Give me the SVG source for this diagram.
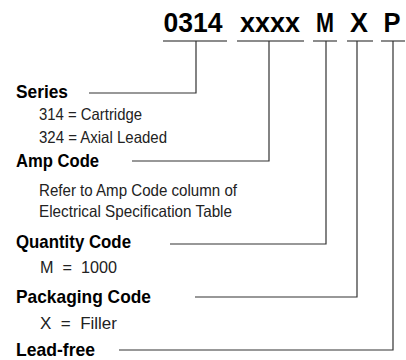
<svg xmlns="http://www.w3.org/2000/svg" width="406" height="360" viewBox="0 0 406 360">
<style>
.code{font-family:"Liberation Sans",Arial,sans-serif;font-weight:bold;font-size:27px;fill:#000;text-anchor:middle}
.head{font-family:"Liberation Sans",Arial,sans-serif;font-weight:bold;font-size:18.5px;fill:#000}
.body{font-family:"Liberation Sans",Arial,sans-serif;font-size:16.5px;fill:#222}
.ln{stroke:#333;stroke-width:1.2;fill:none}
.ul{stroke:#666;stroke-width:1.3;fill:none}
</style>
<rect width="406" height="360" fill="#fff"/>
<g id="code">
<text class="code" x="193" y="32" textLength="59" lengthAdjust="spacingAndGlyphs">0314</text>
<text class="code" x="270" y="32" textLength="60" lengthAdjust="spacingAndGlyphs">xxxx</text>
<text class="code" x="325" y="32" textLength="18" lengthAdjust="spacingAndGlyphs">M</text>
<text class="code" x="359" y="32" textLength="18" lengthAdjust="spacingAndGlyphs">X</text>
<text class="code" x="392" y="32" textLength="17" lengthAdjust="spacingAndGlyphs">P</text>
<path class="ul" d="M163 41H227M237 41H304M313 41H337M347 41H373M381 41H405"/>
</g>
<g id="series">
<text class="head" x="16" y="98" textLength="52" lengthAdjust="spacingAndGlyphs">Series</text>
<text class="body" x="39" y="120" textLength="103" lengthAdjust="spacingAndGlyphs">314 = Cartridge</text>
<text class="body" x="39" y="143" textLength="128" lengthAdjust="spacingAndGlyphs">324 = Axial Leaded</text>
</g>
<g id="amp">
<text class="head" x="16" y="167" textLength="83" lengthAdjust="spacingAndGlyphs">Amp Code</text>
<text class="body" x="39" y="196" textLength="198" lengthAdjust="spacingAndGlyphs">Refer to Amp Code column of</text>
<text class="body" x="39" y="217" textLength="193" lengthAdjust="spacingAndGlyphs">Electrical Specification Table</text>
</g>
<g id="quantity">
<text class="head" x="16" y="248" textLength="115" lengthAdjust="spacingAndGlyphs">Quantity Code</text>
<text class="body" x="40" y="273" xml:space="preserve" textLength="77" lengthAdjust="spacingAndGlyphs">M  =  1000</text>
</g>
<g id="packaging">
<text class="head" x="16" y="303" textLength="135" lengthAdjust="spacingAndGlyphs">Packaging Code</text>
<text class="body" x="40" y="329" xml:space="preserve" textLength="77" lengthAdjust="spacingAndGlyphs">X  =  Filler</text>
</g>
<g id="leadfree">
<text class="head" x="16" y="356" textLength="79" lengthAdjust="spacingAndGlyphs">Lead-free</text>
</g>
<g id="connectors">
<path class="ln" d="M196 41V93H89"/>
<path class="ln" d="M269 41V161H132"/>
<path class="ln" d="M326 41V244H170"/>
<path class="ln" d="M357 41V297H195"/>
<path class="ln" d="M393 41V350H119"/>
</g>
</svg>
